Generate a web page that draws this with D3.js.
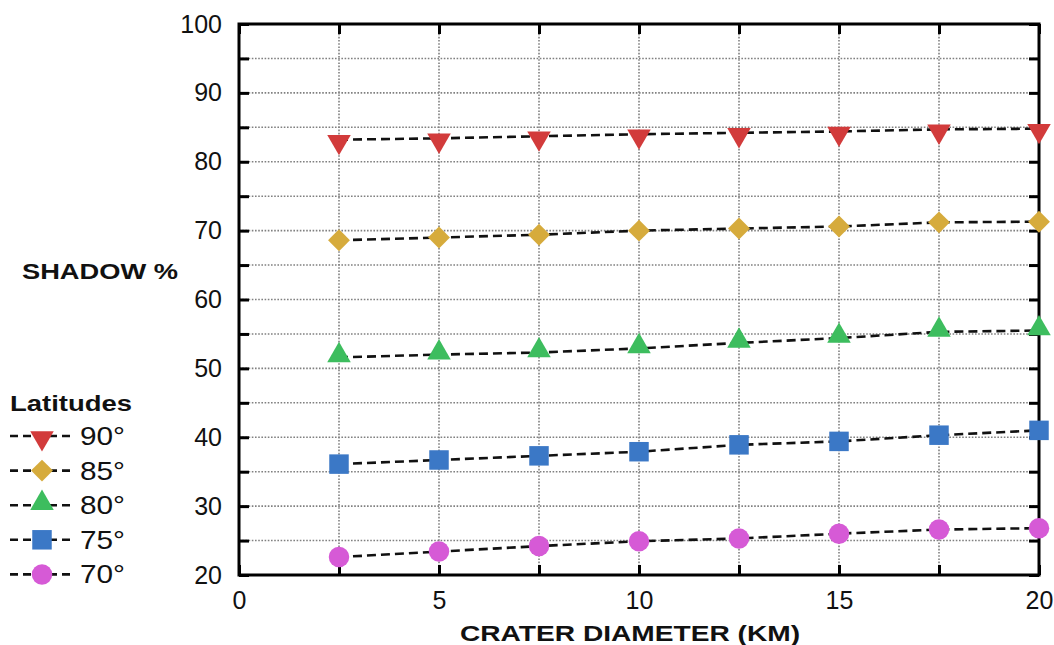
<!DOCTYPE html>
<html>
<head>
<meta charset="utf-8">
<script src="https://cdn.jsdelivr.net/npm/d3@7"></script>
<style>
  body{margin:0;background:#fff;}
  svg{display:block;font-family:"Liberation Sans",Arial,sans-serif;}
</style>
</head>
<body>
<svg id="chart" width="1054" height="645"></svg>
<script>
// crater diameter (km)
const diameters = [2.5, 5, 7.5, 10, 12.5, 15, 17.5, 20];
const latitudes = ['90°', '85°', '80°', '75°', '70°'];
const shadow90 = [83.2, 83.4, 83.7, 84.0, 84.2, 84.4, 84.7, 84.8];
const shadow85 = [68.6, 69.0, 69.4, 70.0, 70.3, 70.6, 71.2, 71.3];
const shadow80 = [51.6, 52.0, 52.3, 52.9, 53.7, 54.4, 55.3, 55.5];
const shadow75 = [36.1, 36.7, 37.3, 37.9, 38.9, 39.4, 40.3, 41.0];
const shadow70 = [22.6, 23.4, 24.2, 24.9, 25.3, 26.0, 26.6, 26.8];
const xTicks = [0, 5, 10, 15, 20];
const yTicks = [20, 30, 40, 50, 60, 70, 80, 90, 100];

const seriesList = [
  {name: latitudes[0], values: shadow90, color: '#d23b3b', shape: 'tridown'},
  {name: latitudes[1], values: shadow85, color: '#d6ab3c', shape: 'diamond'},
  {name: latitudes[2], values: shadow80, color: '#3dbd5e', shape: 'triup'},
  {name: latitudes[3], values: shadow75, color: '#3b78c6', shape: 'square'},
  {name: latitudes[4], values: shadow70, color: '#d65ad6', shape: 'circle'}
];

const svg = d3.select('#chart');
const L = 239, R = 1039, T = 24, B = 575;
const x = d3.scaleLinear().domain([0, 20]).range([L, R]);
const y = d3.scaleLinear().domain([20, 100]).range([B, T]);

// grid
const grid = svg.append('g').attr('stroke', '#808080').attr('stroke-width', 1.6).attr('stroke-dasharray', '1.6,1.6');
grid.selectAll('.hg').data(d3.range(25, 100, 5)).join('line')
  .attr('x1', L).attr('x2', R).attr('y1', d => y(d)).attr('y2', d => y(d));
grid.selectAll('.vg').data(d3.range(2.5, 20, 2.5)).join('line')
  .attr('y1', T).attr('y2', B).attr('x1', d => x(d)).attr('x2', d => x(d));

// frame
svg.append('rect').attr('x', L).attr('y', T).attr('width', R - L).attr('height', B - T)
  .attr('fill', 'none').attr('stroke', '#000').attr('stroke-width', 3);

// axes: ticks inward on all four sides
function styleAxis(g){
  g.select('.domain').remove();
  g.selectAll('.tick line').attr('stroke', '#000').attr('stroke-width', 3);
  g.selectAll('.tick text').attr('font-size', 25).attr('fill', '#111');
}
const minor = d3.range(20, 101, 5);
const xMinor = d3.range(0, 20.1, 2.5);
svg.append('g').attr('transform', `translate(${L},0)`)
  .call(d3.axisLeft(y).tickValues(minor).tickSizeInner(-10).tickSizeOuter(0).tickPadding(17)
    .tickFormat(d => yTicks.includes(d) ? d : ''))
  .call(styleAxis);
svg.append('g').attr('transform', `translate(${R},0)`)
  .call(d3.axisRight(y).tickValues(minor).tickSizeInner(-10).tickSizeOuter(0).tickFormat(''))
  .call(styleAxis);
svg.append('g').attr('transform', `translate(0,${B})`)
  .call(d3.axisBottom(x).tickValues(xMinor).tickSizeInner(-10).tickSizeOuter(0).tickPadding(16)
    .tickFormat(d => xTicks.includes(d) ? d : ''))
  .call(styleAxis);
svg.append('g').attr('transform', `translate(0,${T})`)
  .call(d3.axisTop(x).tickValues(xMinor).tickSizeInner(-10).tickSizeOuter(0).tickFormat(''))
  .call(styleAxis);

// marker shapes
const symbols = {
  tridown: d3.symbol().type(d3.symbolTriangle).size(240),
  triup: d3.symbol().type(d3.symbolTriangle).size(240),
  diamond: d3.symbol().type(d3.symbolSquare).size(240),
  square: d3.symbol().type(d3.symbolSquare).size(380),
  circle: d3.symbol().type(d3.symbolCircle).size(330)
};
const rot = {tridown: 180, triup: 0, diamond: 45, square: 0, circle: 0};
const yOff = {tridown: 2, triup: -2, diamond: 0, square: 0, circle: 0};

function drawMarker(g, shape, color, cx, cy){
  g.append('path').attr('d', symbols[shape]())
    .attr('transform', `translate(${cx},${cy + yOff[shape]}) rotate(${rot[shape]})`)
    .attr('fill', color);
}

const line = d3.line().x((d, i) => x(diameters[i])).y(d => y(d));
seriesList.forEach(s => {
  svg.append('path').datum(s.values).attr('d', line)
    .attr('fill', 'none').attr('stroke', '#111').attr('stroke-width', 2.6).attr('stroke-dasharray', '9,5');
  const g = svg.append('g');
  s.values.forEach((v, i) => drawMarker(g, s.shape, s.color, x(diameters[i]), y(v)));
});

// axis titles
svg.append('text').attr('x', 22).attr('y', 279).attr('font-size', 22).attr('font-weight', 'bold')
  .attr('textLength', 156).attr('lengthAdjust', 'spacingAndGlyphs')
  .attr('fill', '#111').text('SHADOW %');
svg.append('text').attr('x', 460).attr('y', 641)
  .attr('font-size', 22).attr('font-weight', 'bold').attr('fill', '#111')
  .attr('textLength', 340).attr('lengthAdjust', 'spacingAndGlyphs').text('CRATER DIAMETER (KM)');

// legend
const leg = svg.append('g');
leg.append('text').attr('x', 10).attr('y', 411).attr('font-size', 22).attr('font-weight', 'bold')
  .attr('textLength', 122).attr('lengthAdjust', 'spacingAndGlyphs')
  .attr('fill', '#111').text('Latitudes');
seriesList.forEach((s, i) => {
  const cy = 436 + i * 34.6;
  leg.append('line').attr('x1', 10).attr('x2', 70).attr('y1', cy).attr('y2', cy)
    .attr('stroke', '#111').attr('stroke-width', 2.6).attr('stroke-dasharray', '8,5');
  drawMarker(leg, s.shape, s.color, 42, cy);
  leg.append('text').attr('x', 80).attr('y', cy + 9).attr('font-size', 25).attr('fill', '#111')
    .attr('textLength', 45).attr('lengthAdjust', 'spacingAndGlyphs').text(s.name);
});
</script>
</body>
</html>
